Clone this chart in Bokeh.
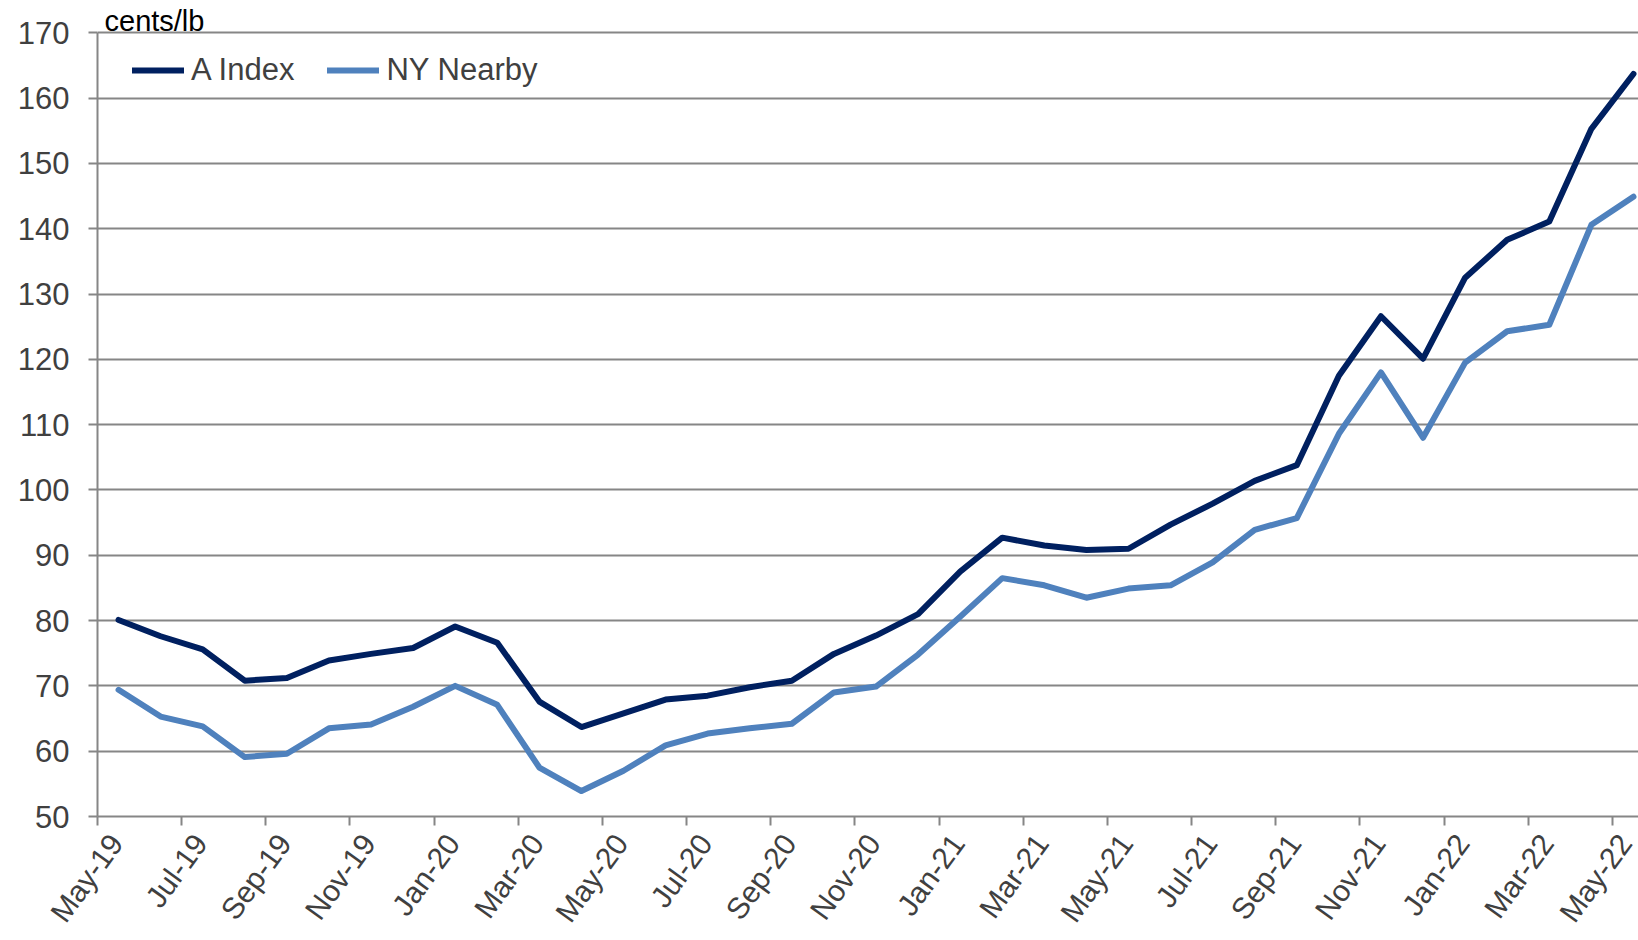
import math
from bokeh.plotting import figure
from bokeh.models import (Range1d, FixedTicker, Legend, LegendItem, Label,
                          LinearAxis)
from bokeh.embed import file_html
from bokeh.resources import INLINE

# ---- data (monthly, May-19 .. May-22), cents/lb ----
a_index = [80.1, 77.6, 75.6, 70.8, 71.2, 73.9, 74.9, 75.8, 79.1, 76.6,
           67.6, 63.7, 65.8, 67.9, 68.5, 69.8, 70.8, 74.9, 77.7, 81.0,
           87.5, 92.7, 91.5, 90.8, 91.0, 94.7, 97.9, 101.4, 103.8, 117.5,
           126.6, 120.1, 132.5, 138.3, 141.1, 155.3, 163.7]
ny_nearby = [69.4, 65.3, 63.8, 59.1, 59.6, 63.5, 64.1, 66.8, 70.0, 67.1,
             57.5, 53.9, 57.0, 60.9, 62.7, 63.5, 64.2, 69.0, 69.9, 74.8,
             80.6, 86.5, 85.4, 83.5, 84.9, 85.4, 88.9, 93.9, 95.7, 108.6,
             118.0, 108.0, 119.5, 124.3, 125.3, 140.6, 144.9]
tick_labels = ["May-19", "Jul-19", "Sep-19", "Nov-19", "Jan-20", "Mar-20",
               "May-20", "Jul-20", "Sep-20", "Nov-20", "Jan-21", "Mar-21",
               "May-21", "Jul-21", "Sep-21", "Nov-21", "Jan-22", "Mar-22",
               "May-22"]
y_ticks = [50, 60, 70, 80, 90, 100, 110, 120, 130, 140, 150, 160, 170]
series_names = ["A Index", "NY Nearby"]
series_colors = ["#002060", "#4F81BD"]

months = list(range(len(a_index)))
# tick marks sit on the boundary before every second month
tick_pos = [2 * k - 0.5 for k in range(len(tick_labels))]

FONT = "Liberation Sans"
GRID = "#868686"
TXT = "#404040"

X0, X1 = -0.5, 36.12
LABEL_SHIFT = 0.442   # rotated labels end a little right of their tick

p = figure(width=1638, height=940, output_backend="svg", toolbar_location=None,
           x_range=Range1d(X0, X1), y_range=Range1d(50, 174.95),
           min_border_left=97, min_border_right=0, min_border_top=0,
           min_border_bottom=124)
p.extra_x_ranges = {"lab": Range1d(X0 - LABEL_SHIFT, X1 - LABEL_SHIFT)}
p.outline_line_color = None
p.background_fill_color = "white"
p.border_fill_color = "white"

# grid
p.xgrid.grid_line_color = None
p.ygrid.ticker = FixedTicker(ticks=y_ticks)
p.ygrid.grid_line_color = GRID
p.ygrid.grid_line_width = 2

# y axis
yax = p.yaxis[0]
yax.ticker = FixedTicker(ticks=y_ticks)
yax.bounds = (y_ticks[0], y_ticks[-1])
yax.axis_line_color = GRID
yax.axis_line_width = 2
yax.major_tick_line_color = GRID
yax.major_tick_line_width = 2
yax.major_tick_out = 9
yax.major_tick_in = 0
yax.minor_tick_line_color = None
yax.major_label_text_font = FONT
yax.major_label_text_font_size = "31px"
yax.major_label_text_color = TXT
yax.major_label_standoff = 19

# x axis: line and tick marks
xax = p.xaxis[0]
xax.ticker = FixedTicker(ticks=tick_pos)
xax.major_label_overrides = {t: "" for t in tick_pos}
xax.major_label_text_font_size = "0px"
xax.major_label_standoff = 0
xax.axis_line_color = GRID
xax.axis_line_width = 2
xax.major_tick_line_color = GRID
xax.major_tick_line_width = 2
xax.major_tick_out = 9
xax.major_tick_in = 0
xax.minor_tick_line_color = None

# x axis: rotated month labels
lab_axis = LinearAxis(x_range_name="lab", ticker=FixedTicker(ticks=tick_pos),
                      major_label_overrides=dict(zip(tick_pos, tick_labels)),
                      major_label_orientation=math.radians(54),
                      major_label_standoff=12,
                      major_label_text_font=FONT,
                      major_label_text_font_size="30px",
                      major_label_text_color=TXT,
                      axis_line_color=None, major_tick_line_color=None,
                      minor_tick_line_color=None,
                      major_tick_out=0, major_tick_in=0)
p.add_layout(lab_axis, "below")

# lines
renderers = []
for vals, col in zip([a_index, ny_nearby], series_colors):
    r = p.line(months, vals, line_color=col, line_width=6,
               line_join="round", line_cap="round")
    renderers.append(r)

legend = Legend(items=[LegendItem(label=n, renderers=[r])
                       for n, r in zip(series_names, renderers)],
                orientation="horizontal", location=(35, 728),
                glyph_width=52, glyph_height=36, label_height=36,
                label_standoff=7, spacing=33, padding=0, margin=0,
                border_line_color=None, background_fill_alpha=0,
                label_text_font=FONT, label_text_font_size="31px",
                label_text_color=TXT)
p.add_layout(legend, "center")

p.add_layout(Label(x=X0, y=y_ticks[-1], text="cents/lb", x_offset=7,
                   y_offset=-4, text_baseline="bottom", text_align="left",
                   text_font=FONT, text_font_size="29px",
                   text_color="#000000"))

open("out.html", "w").write(file_html(p, INLINE))
